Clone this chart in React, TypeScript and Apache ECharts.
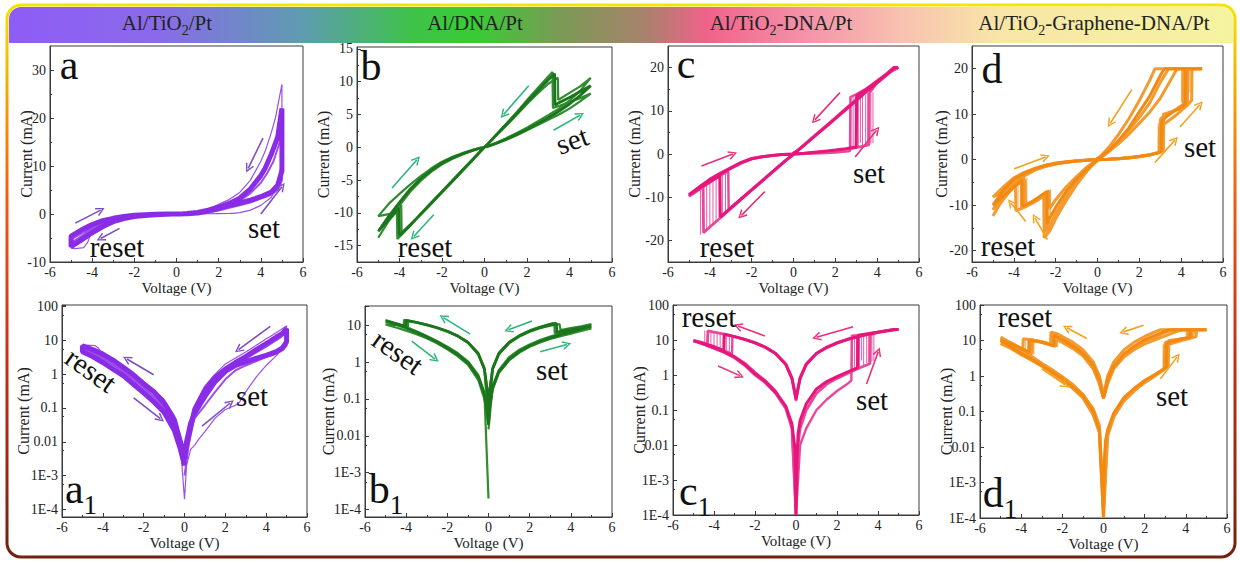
import React, { useEffect, useRef } from 'react';
import * as echarts from 'echarts';

type P = [number, number];
type Jump = [number, number, number];
type Arrow = [number, number, number, number, number];

const FONT = '"Liberation Serif","Times New Roman",Times,serif';

// ---------- header titles ----------
const headerTitles: string[][] = [
  ['Al/TiO', '2', '/Pt'],
  ['Al/DNA/Pt'],
  ['Al/TiO', '2', '-DNA/Pt'],
  ['Al/TiO', '2', '-Graphene-DNA/Pt'],
];

// ---------- tick labels ----------
const xTicks = [-6, -4, -2, 0, 2, 4, 6];
const aYTicks = [-10, 0, 10, 20, 30];
const aYMinor = [-5, 5, 15, 25];
const bYTicks = [-15, -10, -5, 0, 5, 10, 15];
const bYMinor = [-12.5, -7.5, -2.5, 2.5, 7.5, 12.5];
const cYTicks = [-20, -10, 0, 10, 20];
const cYMinor = [-15, -5, 5, 15];
const dYTicks = [-20, -10, 0, 10, 20];
const dYMinor = [-15, -5, 5, 15];
const logTickLabels: Record<string, string> = { '2': '100', '1': '10', '0': '1', '-1': '0.1', '-2': '0.01', '-3': '1E-3', '-4': '1E-4' };

// ---------- Al/TiO2/Pt  (V, I in mA) ----------
const aLoop1: P[] = [[0,0.003],[0.1,0.01],[0.3,0.035],[0.5,0.07],[1,0.22],[1.5,0.6],[2,1.2],[2.5,1.8],[3,2.3],[3.5,2.9],[4,3.6],[4.5,4.6],[4.8,6],[5,9],[5,22],[4.8,16],[4.5,12.5],[4.2,9.5],[4,8],[3.5,5.2],[3,3.3],[2.5,2.2],[2,1.4],[1.5,0.8],[1,0.33],[0.5,0.09],[0.2,0.015],[0,0.004],[-0.2,-0.01],[-0.5,-0.045],[-1,-0.14],[-1.5,-0.3],[-2,-0.52],[-2.5,-0.95],[-3,-1.6],[-3.5,-2.6],[-4,-3.9],[-4.5,-5.3],[-5,-6.8],[-5,-4.6],[-4.5,-3.3],[-4,-2.2],[-3.5,-1.4],[-3,-0.9],[-2.5,-0.5],[-2,-0.28],[-1.5,-0.15],[-1,-0.075],[-0.5,-0.022],[-0.2,-0.006],[0,-0.002]];
const aLoop2: P[] = [[0,0.0002],[0.1,0.002],[0.3,0.006],[0.5,0.008],[0.7,0.012],[1,0.02],[1.5,0.05],[2,0.09],[2.5,0.12],[2.7,0.15],[3,0.3],[3.5,0.8],[4,1.8],[4.5,3.5],[4.8,6],[5,11],[5,27],[4.7,20.2],[4.5,17],[4.2,13],[4,11],[3.5,7],[3,4.5],[2.5,3],[2,2],[1.5,1],[1,0.45],[0.5,0.12],[0.2,0.03],[0,0.005],[-0.2,-0.015],[-0.5,-0.06],[-1,-0.18],[-2,-0.6],[-3,-1.8],[-4,-4.3],[-4.5,-5.9],[-5,-7.1],[-4.8,-7.2],[-4.4,-7],[-4.2,-5.8],[-4,-3],[-3.5,-1.9],[-3,-1.1],[-2,-0.35],[-1,-0.09],[-0.5,-0.03],[-0.2,-0.008],[0,-0.0002]];
const aLoop3: P[] = [[0,0.001],[0.3,0.02],[0.5,0.05],[1,0.12],[1.5,0.3],[2,0.7],[2.5,1.3],[3,1.8],[3.5,2.4],[4,3.2],[4.5,4],[4.8,5],[5,7],[5,18],[4.9,15],[4.6,11],[4.3,8.5],[4,6.5],[3.5,4.3],[3,2.8],[2.5,1.9],[2,1.1],[1.5,0.55],[1,0.25],[0.5,0.06],[0,0.002],[-0.5,-0.035],[-1,-0.11],[-2,-0.42],[-3,-1.3],[-4,-3.2],[-5,-6],[-5,-5.3],[-4,-2.8],[-3,-1.2],[-2,-0.4],[-1,-0.1],[-0.5,-0.03],[0,-0.003]];
const aArrows: Arrow[] = [[-4.8,-1.9,-3.6,0.8,0],[-2.7,-3.0,-3.6,-5.1,0],[4.1,15.8,3.4,9.5,0],[4.0,0,5.0,5.7,-0.4]];
const a1Arrows: Arrow[] = [[4.2,25.7,2.65,5.3,0],[-1.51,0.96,-2.82,2.8,0],[-2.49,0.2,-1.18,0.048,0],[0.86,0.029,2.24,0.14,0]];

// ---------- Al/DNA/Pt ----------
const bLoop1: P[] = [[0,0.02],[0.05,0.06],[0.2,0.2],[0.5,0.55],[1,1.2],[1.5,1.95],[2,2.75],[2.5,3.6],[3,4.5],[3.5,5.5],[4,6.6],[4.5,7.9],[5,9.4],[4.5,8.5],[4,7.6],[3.5,6.8],[3.32,6.4],[3.3,11.2],[3,10.3],[2.5,8.6],[2,6.9],[1.5,5.1],[1,3.4],[0.5,1.7],[0.2,0.65],[0.05,0.15],[0,0.02],[-0.05,-0.15],[-0.2,-0.65],[-0.5,-1.7],[-1,-3.4],[-1.5,-5.1],[-2,-6.8],[-2.5,-8.5],[-3,-10.2],[-3.5,-11.9],[-4,-13.5],[-4.03,-9.3],[-4.5,-11],[-5,-12.8],[-4.5,-10.5],[-4,-8.4],[-3.5,-6.4],[-3,-4.8],[-2.5,-3.5],[-2,-2.4],[-1.5,-1.6],[-1,-0.95],[-0.5,-0.4],[-0.2,-0.13],[-0.05,-0.04],[0,-0.02]];
const bLoop2: P[] = [[0,0.02],[0.05,0.05],[0.2,0.18],[0.5,0.5],[1,1.1],[1.5,1.8],[2,2.6],[2.5,3.4],[3,4.2],[3.5,5],[4,5.9],[4.5,7],[5,8.2],[4.5,7.5],[4,6.9],[3.5,6.3],[3.22,6],[3.2,11.5],[3,10.8],[2.5,9],[2,7.2],[1.5,5.3],[1,3.5],[0.5,1.75],[0.2,0.7],[0.05,0.17],[0,0.03],[-0.05,-0.17],[-0.2,-0.7],[-0.5,-1.75],[-1,-3.5],[-1.5,-5.2],[-2,-6.9],[-2.5,-8.6],[-3,-10.3],[-3.5,-11.8],[-3.9,-13],[-3.92,-8.8],[-4.5,-11.2],[-5,-13.8],[-4.5,-11.2],[-4,-8.9],[-3.5,-6.8],[-3,-5.1],[-2.5,-3.7],[-2,-2.6],[-1.5,-1.75],[-1,-1.05],[-0.5,-0.45],[-0.2,-0.15],[0,-0.0002]];
const bLoop3: P[] = [[0,0.015],[0.2,0.22],[0.5,0.6],[1,1.35],[1.5,2.15],[2,3],[2.5,3.95],[3,4.9],[3.5,5.9],[4,7.1],[4.5,8.6],[5,10.6],[4.5,9.3],[4,8.3],[3.5,7.3],[3.47,7.2],[3.45,10.6],[3,9.7],[2.5,8.2],[2,6.6],[1.5,4.9],[1,3.2],[0.5,1.6],[0.2,0.62],[0,0.02],[-0.2,-0.62],[-0.5,-1.6],[-1,-3.3],[-1.5,-5],[-2,-6.7],[-2.5,-8.4],[-3,-10.1],[-3.5,-12],[-4.1,-14],[-4.12,-10],[-4.5,-10.2],[-5,-10.5],[-4.5,-8.6],[-4,-7.1],[-3.5,-5.7],[-3,-4.4],[-2.5,-3.2],[-2,-2.2],[-1.5,-1.45],[-1,-0.85],[-0.5,-0.33],[-0.2,-0.1],[0,-0.02]];
const bArrows: Arrow[] = [[2.08,9.4,0.9,5.0,0],[3.25,2.6,4.5,4.9,0],[-4.35,-6.2,-3.18,-1.9,0],[-2.39,-10.3,-3.33,-13.6,0]];
const b1Arrows: Arrow[] = [[-0.89,5.7,-2.19,16,0],[-3.73,3.7,-2.59,1.2,0],[2.11,13,0.97,7.5,0],[2.51,1.9,3.81,3.0,0]];

// ---------- Al/TiO2-DNA/Pt ----------
const cLoop1: P[] = [[0,0.0001],[0.05,0.004],[0.1,0.02],[0.2,0.05],[0.5,0.15],[1,0.4],[1.5,0.65],[2,0.9],[2.5,1.2],[3,1.6],[3.02,13.5],[3.5,15],[4,16.8],[4.5,18.6],[4.8,20],[5,20],[4.8,19.8],[4.5,18.5],[4,16.5],[3.5,14.5],[3,12.4],[2.5,10.3],[2,8.2],[1.5,6.1],[1,4.1],[0.5,2],[0.2,0.8],[0.05,0.3],[0,0.2],[-0.05,-0.3],[-0.2,-0.8],[-0.5,-2],[-1,-4.1],[-1.5,-6.2],[-2,-8.3],[-2.5,-10.4],[-3,-12.5],[-3.5,-14.6],[-3.52,-5],[-4,-6.4],[-4.5,-7.9],[-5,-9.4],[-4.5,-7.6],[-4,-6],[-3.5,-4.6],[-3,-3.3],[-2.5,-2],[-2,-1.1],[-1.5,-0.65],[-1,-0.33],[-0.5,-0.13],[-0.2,-0.04],[-0.05,-0.008],[0,-0.0001]];
const cLoop2: P[] = [[0,0.0002],[0.1,0.01],[0.2,0.03],[0.5,0.1],[1,0.3],[1.5,0.55],[2,0.8],[2.5,1.1],[3,1.5],[3.5,2],[3.6,2.1],[3.62,14],[4,16.6],[4.5,18.8],[4.8,20],[5,20],[4.5,18.7],[4,16.7],[3.5,14.7],[3,12.6],[2.5,10.5],[2,8.4],[1.5,6.3],[1,4.2],[0.5,2.1],[0.2,0.85],[0.05,0.3],[0,0.22],[-0.05,-0.3],[-0.2,-0.85],[-0.5,-2.1],[-1,-4.2],[-1.5,-6.3],[-2,-8.4],[-2.5,-10.5],[-3,-12.6],[-3.5,-14.8],[-4,-16.9],[-4.3,-18.2],[-4.32,-7.5],[-4.6,-8.5],[-5,-9.8],[-4.6,-8],[-4,-5.8],[-3.5,-4.4],[-3,-3.1],[-2.5,-1.9],[-2,-1],[-1.5,-0.6],[-1,-0.3],[-0.5,-0.11],[-0.2,-0.03],[0,-0.0001]];
const cLoop3: P[] = [[0,0.0001],[0.2,0.01],[0.5,0.03],[1,0.1],[1.5,0.2],[2,0.35],[2.5,0.55],[2.7,0.7],[2.72,13.2],[3,13.8],[3.5,15.2],[4,17],[4.5,18.8],[4.8,20],[5,20],[4.5,18.6],[4,16.6],[3.5,14.5],[3,12.4],[2.5,10.3],[2,8.2],[1.5,6.1],[1,4.1],[0.5,2],[0.2,0.8],[0,0.18],[-0.2,-0.8],[-0.5,-2],[-1,-4.1],[-1.5,-6.1],[-2,-8.2],[-2.5,-10.3],[-3,-12.4],[-3.1,-12.8],[-3.12,-4],[-3.5,-5],[-4,-6.6],[-4.5,-8.2],[-5,-9.7],[-4.5,-7.8],[-4,-6.2],[-3.5,-4.7],[-3,-3.4],[-2.5,-2.2],[-2,-1.2],[-1.5,-0.7],[-1,-0.35],[-0.5,-0.12],[-0.2,-0.04],[0,-0.0001]];
const cSetJumps: Jump[] = [[2.75,1.2,13.4],[2.85,1.4,13.6],[2.95,1.5,13.3],[3.1,1.7,13.8],[3.2,2.6,13.5],[3.3,1.9,14],[3.45,2.2,13.6],[3.55,2.3,14.2],[3.7,2.4,13.9],[3.8,2.5,14.3]];
const cResetJumps: Jump[] = [[-3.1,-13,-4.2],[-3.25,-13.6,-4.6],[-3.4,-14.2,-5],[-3.55,-14.9,-5.4],[-3.7,-15.5,-5.8],[-3.85,-16.1,-6.2],[-4,-16.8,-6.6],[-4.15,-17.4,-7],[-4.3,-18,-7.4],[-4.45,-18.7,-7.8]];
const cArrows: Arrow[] = [[2.22,14.2,1.02,7.9,0],[2.95,-0.7,3.97,5.5,-0.4],[-4.4,-2.8,-2.9,0,0],[-1.37,-8.7,-2.49,-14.2,0]];
const c1Arrows: Arrow[] = [[-1.52,13,-2.83,25,0],[-3.8,1.8,-2.74,0.96,0],[2.79,24,1.0,12,0],[3.44,0.55,4.01,4.6,-0.3]];

// ---------- Al/TiO2-Graphene-DNA/Pt ----------
const dLoop1: P[] = [[0,0.0001],[0.05,0.005],[0.1,0.015],[0.2,0.03],[0.5,0.09],[1,0.25],[1.5,0.45],[2,0.75],[2.5,1.1],[2.9,1.5],[3.05,1.8],[3.07,8.5],[3.3,9.5],[3.6,10.5],[4,11.5],[4.2,12.2],[4.22,20],[5,20],[4,20],[3.2,20],[3,18.5],[2.5,14],[2,10.5],[1.5,7],[1,4.2],[0.5,1.9],[0.2,0.8],[0.05,0.3],[0,0.25],[-0.05,-0.3],[-0.2,-0.8],[-0.5,-2],[-1,-4.3],[-1.5,-7],[-2,-10.5],[-2.3,-13],[-2.4,-14.2],[-2.42,-7],[-2.8,-8.2],[-3.2,-9.4],[-3.6,-10.3],[-3.62,-4.5],[-4,-6],[-4.5,-8],[-5,-10],[-4.5,-6.7],[-4,-4.3],[-3.5,-3],[-3,-2],[-2.5,-1.3],[-2,-0.85],[-1.5,-0.5],[-1,-0.28],[-0.5,-0.1],[-0.2,-0.03],[0,-0.0001]];
const dLoop2: P[] = [[0,0.0002],[0.1,0.012],[0.2,0.025],[0.5,0.08],[1,0.22],[1.5,0.4],[2,0.7],[2.5,1.05],[2.95,1.6],[2.97,7],[3.3,8.2],[3.7,9.6],[4,10.8],[4.3,12],[4.5,13],[4.52,20],[5,20],[3.5,20],[2.75,20],[2.5,17.5],[2,13],[1.5,9],[1,5.5],[0.5,2.5],[0.2,1],[0.05,0.4],[0,0.28],[-0.05,-0.4],[-0.2,-1],[-0.5,-2.5],[-1,-5.5],[-1.5,-9],[-2,-13],[-2.3,-15.8],[-2.55,-17.2],[-2.57,-8],[-3,-9.3],[-3.5,-10.5],[-3.9,-11.2],[-3.92,-5.5],[-4.3,-7.5],[-4.7,-10],[-5,-12.4],[-4.5,-8.5],[-4,-5.5],[-3.5,-3.6],[-3,-2.3],[-2.5,-1.5],[-2,-0.95],[-1.5,-0.58],[-1,-0.3],[-0.5,-0.12],[-0.2,-0.04],[0,-0.0002]];
const dLoop3: P[] = [[0,0.0001],[0.2,0.02],[0.5,0.07],[1,0.2],[1.5,0.38],[2,0.65],[2.5,1],[3,1.6],[3.15,2],[3.17,10],[3.5,10.5],[3.8,11],[4.1,11.5],[4.12,20],[5,20],[3.8,20],[3.5,17.5],[3,13.5],[2.5,10.5],[2,8],[1.5,5.6],[1,3.5],[0.5,1.6],[0.2,0.6],[0,0.23],[-0.2,-0.6],[-0.5,-1.6],[-1,-3.7],[-1.5,-6],[-2,-8.8],[-2.3,-10.8],[-2.32,-6.8],[-2.7,-8.2],[-3.1,-9.4],[-3.5,-10.3],[-3.52,-4],[-4,-5.3],[-4.5,-7],[-5,-8.2],[-4.5,-6],[-4,-4],[-3.5,-2.8],[-3,-1.9],[-2.5,-1.2],[-2,-0.75],[-1.5,-0.45],[-1,-0.24],[-0.5,-0.08],[-0.2,-0.025],[0,-0.0001]];
const dLoop4: P[] = [[0,0.0002],[0.2,0.025],[0.5,0.085],[1,0.23],[1.5,0.42],[2,0.72],[2.5,1.08],[3,1.7],[3.02,9],[3.4,10],[3.8,11.2],[4.3,12.8],[4.32,20],[5,20],[3.4,20],[3,17],[2.5,12.5],[2,9.3],[1.5,6.4],[1,4],[0.5,1.8],[0.2,0.7],[0,0.25],[-0.2,-0.7],[-0.5,-1.9],[-1,-4.8],[-1.5,-8],[-2,-11.8],[-2.45,-16],[-2.47,-7.3],[-3,-9],[-3.45,-10.1],[-3.47,-4.4],[-4,-6],[-4.5,-8.5],[-5,-11],[-4.5,-7.5],[-4,-4.8],[-3.5,-3.2],[-3,-2.1],[-2.5,-1.4],[-2,-0.9],[-1.5,-0.55],[-1,-0.3],[-0.5,-0.11],[-0.2,-0.03],[0,-0.0002]];
const dSetJumps: Jump[] = [[2.9,1.5,8],[2.95,1.6,8.6],[3.0,1.7,9.1],[3.05,1.8,9.6],[3.12,1.9,10.3],[4.02,12.6,20],[4.12,13.2,20],[4.22,13.8,20],[4.32,14.3,20],[4.42,14.8,20]];
const dResetJumps: Jump[] = [[-2.25,-13,-6.5],[-2.32,-14,-6.8],[-2.4,-15,-7],[-2.48,-16,-7.3],[-2.56,-17,-7.6],[-3.38,-9.8,-4],[-3.48,-10.2,-4.4],[-3.58,-10.6,-4.8],[-3.68,-11,-5.2],[-3.8,-11.4,-5.6]];
const dArrows: Arrow[] = [[1.64,15.4,0.61,8.0,0],[-3.99,-2.0,-2.48,0.6,0],[2.75,-0.6,3.7,4.3,-0.4],[3.94,7.2,4.89,12.1,-0.4],[-3.43,-13.6,-4.14,-9.5,0.4],[-2.4,-17.6,-2.99,-12.8,0.4]];
const d1Arrows: Arrow[] = [[-0.81,11.4,-1.78,22.8,0],[-3.0,1.6,-1.86,0.56,0],[1.95,27,0.97,17.5,0],[2.76,0.83,3.57,3.4,-0.4]];

// ---------- panel layout ----------
interface Panel {
  box: number[]; log: boolean; y: number[]; yTicks?: number[]; yMinor?: number[];
  loops: P[][]; widths: number[]; color: string; color2: string; arrowColor: string;
  arrows: Arrow[]; jumps?: Jump[][]; nameGap: number;
}
const panels: Panel[] = [
  { box: [50, 46, 253, 216], log: false, y: [-10, 35], yTicks: aYTicks, yMinor: aYMinor, loops: [aLoop1, aLoop2, aLoop3], widths: [5, 1.2, 2], color: '#8a2be6', color2: '#9a50e8', arrowColor: '#7b4fc6', arrows: aArrows, nameGap: 16 },
  { box: [357, 47, 255, 215], log: false, y: [-17.5, 15.3], yTicks: bYTicks, yMinor: bYMinor, loops: [bLoop1, bLoop2, bLoop3], widths: [2.8, 2.2, 2.2], color: '#1b761b', color2: '#2f8c2f', arrowColor: '#2bb57a', arrows: bArrows, nameGap: 26 },
  { box: [668, 46, 251, 216], log: false, y: [-25, 25], yTicks: cYTicks, yMinor: cYMinor, loops: [cLoop1, cLoop2, cLoop3], widths: [3, 2.8, 2.4], color: '#e6167c', color2: '#e9489a', arrowColor: '#e8307a', arrows: cArrows, jumps: [cSetJumps, cResetJumps], nameGap: 26 },
  { box: [972, 46, 251, 216], log: false, y: [-22.5, 25], yTicks: dYTicks, yMinor: dYMinor, loops: [dLoop1, dLoop2, dLoop3, dLoop4], widths: [3, 3, 3, 3], color: '#f28a12', color2: '#f39a30', arrowColor: '#f2a21e', arrows: dArrows, jumps: [dSetJumps, dResetJumps], nameGap: 23 },
  { box: [62, 305, 245, 212], log: true, y: [6e-5, 110], loops: [aLoop1, aLoop2, aLoop3], widths: [5, 1.2, 2], color: '#8a2be6', color2: '#9a50e8', arrowColor: '#7b4fc6', arrows: a1Arrows, nameGap: 31 },
  { box: [365, 306, 247, 211], log: true, y: [6.3e-5, 33], loops: [bLoop1, bLoop2, bLoop3], widths: [2.8, 2.2, 2.2], color: '#1b761b', color2: '#2f8c2f', arrowColor: '#2bb57a', arrows: b1Arrows, nameGap: 29 },
  { box: [673, 305, 246, 210], log: true, y: [1e-4, 100], loops: [cLoop1, cLoop2, cLoop3], widths: [3, 2.8, 2.4], color: '#e6167c', color2: '#e9489a', arrowColor: '#e8307a', arrows: c1Arrows, jumps: [cSetJumps, cResetJumps], nameGap: 26 },
  { box: [980, 305, 247, 213], log: true, y: [1e-4, 100], loops: [dLoop1, dLoop2, dLoop3, dLoop4], widths: [3, 3, 3, 3], color: '#f28a12', color2: '#f39a30', arrowColor: '#f2a21e', arrows: d1Arrows, jumps: [dSetJumps, dResetJumps], nameGap: 26 },
];

const panelLetters: [string, string, number, number][] = [
  ['a', '', 69, 65], ['b', '', 371, 66], ['c', '', 686, 64], ['d', '', 992, 69],
  ['a', '1', 81, 493], ['b', '1', 386, 493], ['c', '1', 695, 495], ['d', '1', 1000, 497],
];
const switchWords: [string, number, number, number][] = [
  ['reset', 117, 247, 0], ['set', 264, 228, 0],
  ['reset', 425, 247, 0], ['set', 572, 140, 0.35],
  ['reset', 727, 247, 0], ['set', 869, 173, 0],
  ['reset', 1008, 246, 0], ['set', 1200, 147, 0],
  ['reset', 91, 370, -0.62], ['set', 252, 396, 0],
  ['reset', 398, 352, -0.62], ['set', 552, 370, 0],
  ['reset', 709, 317, 0], ['set', 872, 400, 0],
  ['reset', 1025, 317, 0], ['set', 1172, 396, 0],
];
const headerCenters = [167, 475, 781, 1094];

const ARROW = 'path://M0,10 L5,0 L10,10 L8.4,10.6 L5,3.2 L1.6,10.6 Z';

function logFmt(v: number) {
  const e = Math.log10(v);
  const r = Math.round(e);
  if (Math.abs(e - r) > 1e-6) return '';
  return logTickLabels[String(r)] ?? '';
}

function buildOption() {
  const grid: any[] = [];
  const xAxis: any[] = [];
  const yAxis: any[] = [];
  const series: any[] = [];
  const axisColor = '#3a3a3a';
  const labelStyle = { fontFamily: FONT, fontSize: 14, color: '#222' };
  const xNameStyle = { fontFamily: FONT, fontSize: 15, color: '#222' };
  const yNameStyle = { fontFamily: FONT, fontSize: 16, color: '#222' };

  panels.forEach((p, i) => {
    const [left, top, width, height] = p.box;
    grid.push({ left, top, width, height, show: true, borderColor: axisColor, borderWidth: 1, backgroundColor: 'transparent', containLabel: false, outerBoundsMode: 'none' });
    xAxis.push({
      type: 'value', gridIndex: i, min: xTicks[0], max: xTicks[xTicks.length - 1], interval: 2, position: 'bottom',
      axisLine: { show: true, onZero: false, lineStyle: { color: axisColor, width: 1 } },
      axisTick: { show: true, inside: true, length: 4, lineStyle: { color: axisColor } },
      minorTick: { show: true, splitNumber: 2, length: 2, lineStyle: { color: axisColor } },
      splitLine: { show: false }, minorSplitLine: { show: false },
      axisLabel: { ...labelStyle, margin: 3 },
      name: 'Voltage (V)', nameLocation: 'middle', nameGap: 18, nameMoveOverlap: false, nameTextStyle: xNameStyle,
    });
    const yi = yAxis.length;
    const yName = { name: 'Current (mA)', nameLocation: 'middle', nameGap: p.nameGap, nameRotate: 90, nameMoveOverlap: false, nameTextStyle: yNameStyle };
    if (p.log) {
      yAxis.push({
        type: 'log', logBase: 10, gridIndex: i, min: p.y[0], max: p.y[1], position: 'left',
        axisLine: { show: true, onZero: false, lineStyle: { color: axisColor, width: 1 } },
        axisTick: { show: true, inside: true, length: 4, lineStyle: { color: axisColor } },
        minorTick: { show: true, splitNumber: 2, length: 2, lineStyle: { color: axisColor } },
        splitLine: { show: false }, minorSplitLine: { show: false },
        axisLabel: { ...labelStyle, margin: 4, formatter: logFmt, showMinLabel: true, showMaxLabel: true },
        ...yName,
      });
    } else {
      yAxis.push({
        type: 'value', gridIndex: i, min: p.y[0], max: p.y[1], position: 'left',
        axisLine: { show: true, onZero: false, lineStyle: { color: axisColor, width: 1 } },
        axisTick: { show: true, inside: true, length: 4, customValues: p.yTicks, lineStyle: { color: axisColor } },
        splitLine: { show: false },
        axisLabel: { ...labelStyle, margin: 4, customValues: p.yTicks },
        ...yName,
      });
      yAxis.push({
        type: 'value', gridIndex: i, min: p.y[0], max: p.y[1], position: 'left',
        axisLine: { show: false, onZero: false },
        axisTick: { show: true, inside: true, length: 2, customValues: p.yMinor, lineStyle: { color: axisColor } },
        splitLine: { show: false },
        axisLabel: { show: false },
      });
    }
    const tr = (c: number) => (p.log ? Math.abs(c) : c);
    p.loops.forEach((loop, k) => {
      series.push({
        type: 'line', xAxisIndex: i, yAxisIndex: yi, silent: true, showSymbol: false, symbol: 'none',
        data: loop.map(([v, c]) => [v, tr(c)]),
        lineStyle: { color: k === 0 ? p.color : p.color2, width: p.widths[k] },
        emphasis: { disabled: true }, z: 2 + (k === 0 ? 1 : 0),
      });
    });
    (p.jumps || []).forEach((js) => {
      const data: any[] = [];
      js.forEach(([v, lo, hi]) => { data.push([v, tr(lo)]); data.push([v, tr(hi)]); data.push([v, null]); });
      series.push({
        type: 'line', xAxisIndex: i, yAxisIndex: yi, silent: true, showSymbol: false, symbol: 'none', connectNulls: false,
        data, lineStyle: { color: p.color2, width: 0.9 }, emphasis: { disabled: true }, z: 2,
      });
    });
    series.push({
      type: 'line', xAxisIndex: i, yAxisIndex: yi, silent: true, showSymbol: false, data: [],
      markLine: {
        silent: true, symbol: ['none', ARROW], symbolSize: [9, 9], animation: false,
        label: { show: false }, emphasis: { disabled: true },
        lineStyle: { color: p.arrowColor, width: 1.6, type: 'solid' },
        data: p.arrows.map(([x1, y1, x2, y2, cv]) => [
          { coord: [x1, y1], lineStyle: { curveness: cv, color: p.arrowColor, width: 1.6, type: 'solid' } },
          { coord: [x2, y2] },
        ]),
      },
    });
  });

  const graphic: any[] = [];
  graphic.push({
    type: 'rect', z: 0, silent: true,
    shape: { x: 9, y: 7, width: 1224, height: 36, r: [12, 12, 0, 0] },
    style: {
      fill: {
        type: 'linear', x: 0, y: 0, x2: 1, y2: 0,
        colorStops: [
          { offset: 0, color: '#8e5cf6' }, { offset: 0.12, color: '#8a6aea' }, { offset: 0.24, color: '#5e9cb0' },
          { offset: 0.33, color: '#3fc248' }, { offset: 0.38, color: '#38cc34' }, { offset: 0.45, color: '#7a9a55' },
          { offset: 0.52, color: '#a8826c' }, { offset: 0.57, color: '#f06289' }, { offset: 0.65, color: '#f492a9' },
          { offset: 0.73, color: '#f8c2b0' }, { offset: 0.81, color: '#f8e6a6' }, { offset: 1, color: '#f5f3a0' },
        ],
      },
    },
  });
  graphic.push({
    type: 'rect', z: 50, silent: true,
    shape: { x: 7, y: 5, width: 1228, height: 552, r: 14 },
    style: {
      fill: 'none', lineWidth: 3,
      stroke: {
        type: 'linear', x: 0, y: 0, x2: 0, y2: 1,
        colorStops: [
          { offset: 0, color: '#f2e600' }, { offset: 0.15, color: '#f6a800' }, { offset: 0.35, color: '#ef5c12' },
          { offset: 0.62, color: '#c8301a' }, { offset: 1, color: '#74200f' },
        ],
      },
    },
  });
  headerTitles.forEach((parts, i) => {
    const text = parts.length === 1 ? `{n|${parts[0]}}` : `{n|${parts[0]}}{s|${parts[1]}}{n|${parts[2]}}`;
    graphic.push({
      type: 'text', x: headerCenters[i], y: 25, z: 60, silent: true,
      style: {
        text, textAlign: 'center', textVerticalAlign: 'middle', align: 'center', verticalAlign: 'middle',
        rich: {
          n: { fontFamily: FONT, fontSize: 21, fill: '#222', color: '#222', verticalAlign: 'bottom', padding: [0, 0, 4, 0] },
          s: { fontFamily: FONT, fontSize: 14, fill: '#222', color: '#222', verticalAlign: 'bottom' },
        },
      },
    });
  });
  panelLetters.forEach(([m, s, x, y]) => {
    const text = s ? `{m|${m}}{s|${s}}` : `{m|${m}}`;
    graphic.push({
      type: 'text', x, y, z: 60, silent: true,
      style: {
        text, textAlign: 'center', textVerticalAlign: 'middle', align: 'center', verticalAlign: 'middle',
        rich: {
          m: { fontFamily: FONT, fontSize: 42, fill: '#111', color: '#111', verticalAlign: 'bottom', padding: [0, 0, s ? 8 : 0, 0] },
          s: { fontFamily: FONT, fontSize: 27, fill: '#111', color: '#111', verticalAlign: 'bottom' },
        },
      },
    });
  });
  switchWords.forEach(([t, x, y, rot]) => {
    graphic.push({
      type: 'text', x, y, rotation: rot, z: 60, silent: true,
      style: { text: t, fontFamily: FONT, fontSize: 29, fill: '#111', textAlign: 'center', textVerticalAlign: 'middle', align: 'center', verticalAlign: 'middle' },
    });
  });

  return { animation: false, backgroundColor: '#ffffff', grid, xAxis, yAxis, series, graphic };
}

export default function App() {
  const ref = useRef<HTMLDivElement>(null);
  useEffect(() => {
    if (!ref.current) return;
    const chart = echarts.init(ref.current, undefined, { renderer: 'svg' });
    chart.setOption(buildOption() as any);
    return () => chart.dispose();
  }, []);
  return <div ref={ref} style={{ position: 'fixed', left: 0, top: 0, width: 1240, height: 563, background: '#fff' }} />;
}
